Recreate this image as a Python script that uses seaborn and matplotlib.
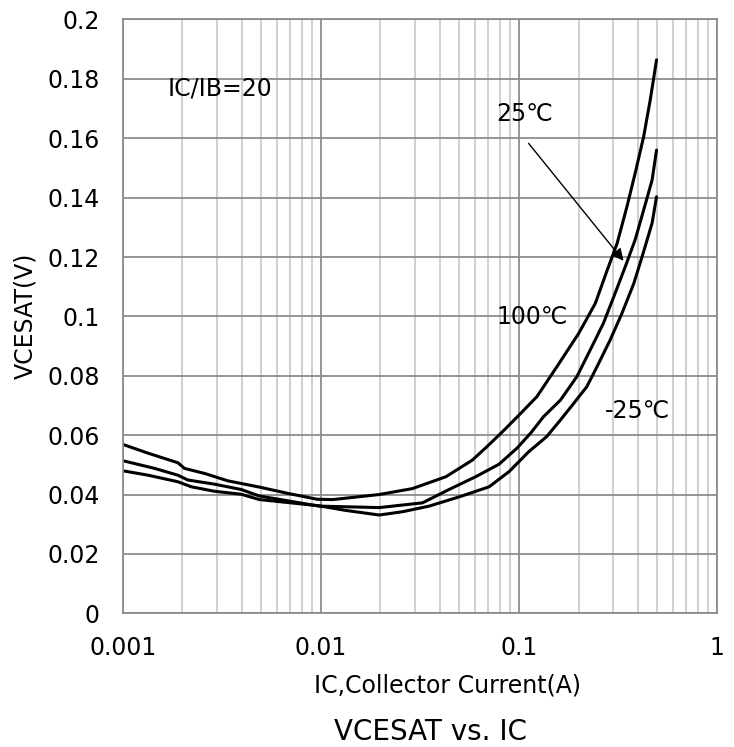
# VCESAT vs IC chart

import pandas as pd
import matplotlib.pyplot as plt
import seaborn as sns
from matplotlib.ticker import FixedLocator, LogLocator, NullFormatter

# curve data (IC in A, VCESAT in V)
ic_100 = [0.001, 0.001346, 0.0019, 0.00205, 0.00259, 0.0034, 0.0049, 0.0068, 0.0096, 0.0115,
          0.0197, 0.029, 0.0428, 0.0582, 0.0689, 0.0836, 0.1016, 0.1233, 0.1556, 0.2004,
          0.243, 0.278, 0.313, 0.351, 0.386, 0.426, 0.460, 0.495]
vce_100 = [0.0569, 0.0539, 0.0507, 0.0488, 0.0471, 0.0446, 0.0425, 0.0404, 0.0384, 0.0383,
           0.0400, 0.0420, 0.0460, 0.0516, 0.0561, 0.0615, 0.0672, 0.0730, 0.0831, 0.0943,
           0.1044, 0.1153, 0.1246, 0.1370, 0.1482, 0.1605, 0.1729, 0.1864]

ic_25 = [0.001, 0.00145, 0.0019, 0.00213, 0.0029, 0.00396, 0.0049, 0.0098, 0.0197, 0.0326,
         0.0444, 0.0605, 0.0793, 0.0977, 0.115, 0.133, 0.162, 0.196, 0.229, 0.267,
         0.301, 0.344, 0.386, 0.426, 0.470, 0.495]
vce_25 = [0.0514, 0.0488, 0.0465, 0.0449, 0.0435, 0.0417, 0.0395, 0.0361, 0.0356, 0.0372,
          0.0417, 0.0460, 0.0502, 0.0556, 0.0608, 0.0662, 0.0718, 0.0797, 0.0887, 0.0977,
          0.1066, 0.1167, 0.1258, 0.1358, 0.1459, 0.1560]

ic_m25 = [0.001, 0.001346, 0.0019, 0.00222, 0.0029, 0.00396, 0.0049, 0.0098, 0.0132, 0.0197,
          0.0258, 0.0352, 0.0499, 0.0707, 0.0891, 0.112, 0.138, 0.162, 0.189, 0.220,
          0.248, 0.289, 0.331, 0.380, 0.418, 0.470, 0.495]
vce_m25 = [0.0480, 0.0465, 0.0443, 0.0426, 0.0411, 0.0401, 0.0383, 0.0362, 0.0347, 0.0331,
           0.0342, 0.0361, 0.0392, 0.0426, 0.0477, 0.0544, 0.0595, 0.0651, 0.0707, 0.0763,
           0.0831, 0.0921, 0.1010, 0.1111, 0.1200, 0.1314, 0.1403]

x_ticks = [0.001, 0.01, 0.1, 1]
x_labels = ["0.001", "0.01", "0.1", "1"]
y_ticks = [0, 0.02, 0.04, 0.06, 0.08, 0.1, 0.12, 0.14, 0.16, 0.18, 0.2]
y_labels = ["0", "0.02", "0.04", "0.06", "0.08", "0.1", "0.12", "0.14", "0.16", "0.18", "0.2"]

sns.set_theme(style="white")
plt.rcParams["font.family"] = ["DejaVu Sans"]
plt.rcParams["text.color"] = "black"

major_col = "#8c8c8c"
minor_col = "#c4c4c4"

fig = plt.figure(figsize=(7.34, 7.47), dpi=100)
ax = fig.add_axes([0.1672, 0.1790, 0.8097, 0.7949])

curves = [(ic_100, vce_100), (ic_25, vce_25), (ic_m25, vce_m25)]
for ic, vce in curves:
    df = pd.DataFrame({"ic": ic, "vce": vce})
    sns.lineplot(data=df, x="ic", y="vce", ax=ax, color="black", lw=2.2, estimator=None)

ax.set_xscale("log")
ax.set_xlim(0.001, 1)
ax.set_ylim(0, 0.2)

ax.xaxis.set_major_locator(FixedLocator(x_ticks))
ax.set_xticklabels(x_labels)
ax.xaxis.set_minor_locator(LogLocator(base=10, subs=[2, 3, 4, 5, 6, 7, 8, 9]))
ax.xaxis.set_minor_formatter(NullFormatter())
ax.set_yticks(y_ticks)
ax.set_yticklabels(y_labels)

ax.grid(which="major", axis="both", color=major_col, lw=1.3)
ax.grid(which="minor", axis="x", color=minor_col, lw=1.1)
ax.set_axisbelow(True)

ax.tick_params(axis="both", which="major", direction="out", length=6, width=1.2,
               color=major_col, labelsize=17, labelcolor="black")
ax.tick_params(axis="y", pad=10.5)
ax.tick_params(axis="x", pad=10)
ax.tick_params(axis="x", which="minor", length=0)

for side, sp in ax.spines.items():
    sp.set_color(major_col)
    sp.set_linewidth(1.3)

ax.set_xlabel("")
ax.set_ylabel("")

# annotations
ax.text(0.00308, 0.1767, "IC/IB=20", fontsize=17, ha="center", va="center")
ax.text(0.107, 0.1683, "25℃", fontsize=17, ha="center", va="center")
ax.text(0.1167, 0.0998, "100℃", fontsize=17, ha="center", va="center")
ax.text(0.398, 0.0680, "-25℃", fontsize=17, ha="center", va="center")
ax.annotate("", xy=(0.344, 0.118), xytext=(0.1097, 0.159),
            arrowprops=dict(arrowstyle="-|>", color="black", lw=1.0, mutation_scale=18))

fig.text(25 / 734, 1 - 316 / 747, "VCESAT(V)", rotation=90, fontsize=17, ha="center", va="center")
fig.text(447.5 / 734, 1 - 693 / 747, "IC,Collector Current(A)", fontsize=17, ha="center", va="baseline")
fig.text(431 / 734, 1 - 740 / 747, "VCESAT vs. IC", fontsize=20, ha="center", va="baseline")

fig.savefig("out.png", dpi=100)
